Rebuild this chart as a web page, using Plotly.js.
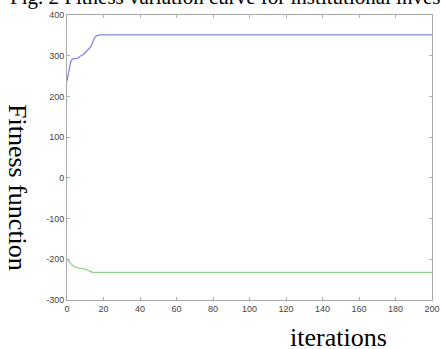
<!DOCTYPE html>
<html>
<head>
<meta charset="utf-8">
<script src="https://cdn.plot.ly/plotly-3.0.1.min.js"></script>
<style>
  html, body { margin: 0; padding: 0; background: #fff; }
  #chart { width: 441px; height: 349px; }
</style>
</head>
<body>
<div id="chart"></div>
<script>
// Iteration numbers at which the fitness was recorded
const iterations = [0, 1, 2, 3, 4, 5, 6, 7, 8, 9, 10, 11, 12, 13, 14, 15, 16, 17, 18, 200];

// Best fitness (upper curve) and its mirror objective (lower curve)
const fitnessUpper = [238, 262, 285, 292, 293, 293, 294, 298, 300, 303, 308, 312, 316, 322, 332, 343, 349, 351, 351, 351];
const fitnessLower = [-200, -206, -211, -215, -218, -220, -221, -222, -222, -223, -224, -226, -229, -231, -232, -232, -232, -232, -232, -232];

// Axis ticks
const xTicks = [0, 20, 40, 60, 80, 100, 120, 140, 160, 180, 200];
const yTicks = [-300, -200, -100, 0, 100, 200, 300, 400];

const traces = [
  {
    x: iterations, y: fitnessUpper, type: 'scatter', mode: 'lines',
    line: { color: '#8686e2', width: 1.3 }, hoverinfo: 'skip'
  },
  {
    x: iterations, y: fitnessLower, type: 'scatter', mode: 'lines',
    line: { color: '#8fd68f', width: 1.3 }, hoverinfo: 'skip'
  }
];

const axisCommon = {
  showgrid: false, zeroline: false,
  showline: true, linecolor: '#a8a8a8', linewidth: 1, mirror: 'ticks',
  ticks: 'inside', ticklen: 3, tickcolor: '#b0b0b0', tickwidth: 1,
  tickfont: { family: 'Liberation Sans, Arial, sans-serif', size: 9, color: '#444' }
};

const serif = 'Liberation Serif, Times New Roman, serif';

const layout = {
  width: 441, height: 349,
  margin: { l: 67, r: 9, t: 15, b: 49 },
  paper_bgcolor: '#fff', plot_bgcolor: '#fff',
  showlegend: false,
  xaxis: Object.assign({}, axisCommon, {
    range: [0, 200], tickvals: xTicks, ticktext: xTicks.map(String)
  }),
  yaxis: Object.assign({}, axisCommon, {
    range: [-300, 400], tickvals: yTicks, ticktext: yTicks.map(String)
  }),
  annotations: [
    {
      text: 'Fig. 2 Fitness variation curve for institutional investors',
      xref: 'paper', yref: 'paper', x: -0.161, y: 1.0147,
      xanchor: 'left', yanchor: 'bottom', showarrow: false,
      font: { family: serif, size: 21, color: '#000' }
    },
    {
      text: 'Fitness function',
      xref: 'paper', yref: 'paper', x: -0.137, y: 0.393,
      xanchor: 'center', yanchor: 'middle', textangle: 90, showarrow: false,
      font: { family: serif, size: 26, color: '#000' }
    },
    {
      text: 'iterations',
      xref: 'paper', yref: 'paper', x: 0.745, y: -0.074,
      xanchor: 'center', yanchor: 'top', showarrow: false,
      font: { family: serif, size: 26, color: '#000' }
    }
  ]
};

Plotly.newPlot('chart', traces, layout, { displayModeBar: false, staticPlot: true });
</script>
</body>
</html>
